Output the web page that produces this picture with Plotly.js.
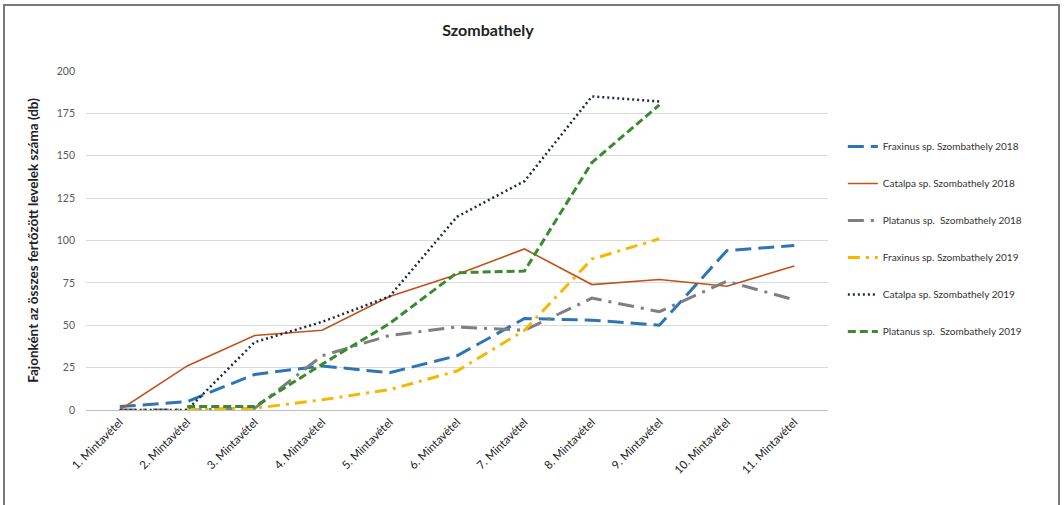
<!DOCTYPE html>
<html>
<head>
<meta charset="utf-8">
<script src="https://cdn.plot.ly/plotly-3.0.1.min.js"></script>
<style>
  html, body { margin: 0; padding: 0; background: #ffffff; }
  #wrap { position: relative; width: 1064px; height: 505px; overflow: hidden; }
  #chart { position: absolute; left: 0; top: 0; width: 1064px; height: 505px; }
  #frame { position: absolute; left: 3px; top: 4px; width: 1057px; height: 520px;
           border: 2px solid #7a7a7a; box-sizing: border-box; pointer-events: none; }
</style>
</head>
<body>
<div id="wrap">
  <div id="chart"></div>
  <div id="frame"></div>
</div>
<script>
// Sampling rounds
const categories = ['1. Mintavétel', '2. Mintavétel', '3. Mintavétel', '4. Mintavétel',
  '5. Mintavétel', '6. Mintavétel', '7. Mintavétel', '8. Mintavétel',
  '9. Mintavétel', '10. Mintavétel', '11. Mintavétel'];

// Infected leaves per species (db)
const fraxinus2018 = [2, 5, 21, 26, 22, 32, 54, 53, 50, 94, 97];
const catalpa2018  = [0, 26, 44, 47, 67, 80, 95, 74, 77, 73, 85];
const platanus2018 = [0, 0, 1, 32, 44, 49, 47, 66, 58, 76, 65];
const fraxinus2019 = [null, 0, 1, 6, 12, 23, 47, 89, 101, null, null];
const catalpa2019  = [0, 0, 40, 52, 67, 114, 135, 185, 182, null, null];
const platanus2019 = [null, 2, 2, 27, 51, 81, 82, 146, 180, null, null];

const seriesNames = [
  'Fraxinus sp. Szombathely 2018',
  'Catalpa sp. Szombathely 2018',
  'Platanus sp.  Szombathely 2018',
  'Fraxinus sp. Szombathely 2019',
  'Catalpa sp. Szombathely 2019',
  'Platanus sp.  Szombathely 2019'
];

const FONT = 'Lato, "Liberation Sans", sans-serif';

function trace(name, values, color, width, dash, group) {
  return {
    type: 'scatter', mode: 'lines', name: name,
    x: categories, y: values,
    connectgaps: false,
    legendgroup: group,
    line: { color: color, width: width, dash: dash }
  };
}

const data = [
  trace(seriesNames[0], fraxinus2018, '#2E75B6', 3, '16px,7px', 'g1'),
  trace(seriesNames[1], catalpa2018,  '#C0531A', 1.6, 'solid', 'g2'),
  trace(seriesNames[2], platanus2018, '#7F7F7F', 3, '16px,7px,3px,7px', 'g3'),
  trace(seriesNames[3], fraxinus2019, '#F5B800', 3, '12px,6px,3px,6px', 'g4'),
  trace(seriesNames[4], catalpa2019,  '#1E2A44', 2.5, '2px,3px', 'g5'),
  trace(seriesNames[5], platanus2019, '#3A8A30', 3, '8px,4px', 'g6')
];

const layout = {
  width: 1064, height: 505,
  paper_bgcolor: '#ffffff', plot_bgcolor: '#ffffff',
  margin: { l: 86, r: 236, t: 71, b: 95, pad: 0 },
  font: { family: FONT, size: 10, color: '#404040' },
  title: {
    text: '<b>Szombathely</b>',
    font: { family: FONT, size: 16, color: '#222222' },
    xref: 'container', x: 488 / 1064, xanchor: 'center',
    yref: 'container', y: 1 - 30 / 505, yanchor: 'middle'
  },
  showlegend: true,
  legend: {
    x: 1.02, xanchor: 'left', y: 0.82, yanchor: 'top',
    font: { family: FONT, size: 10, color: '#333333' },
    tracegroupgap: 18,
    bgcolor: 'rgba(0,0,0,0)'
  },
  xaxis: {
    type: 'category',
    range: [-0.5, 10.5],
    tickangle: -45,
    tickfont: { family: FONT, size: 11.5, color: '#222222' },
    showgrid: false,
    showline: true, linecolor: '#bfbfbf', linewidth: 1,
    ticks: '', zeroline: false,
    fixedrange: true
  },
  yaxis: {
    range: [0, 200],
    tickvals: [0, 25, 50, 75, 100, 125, 150, 175, 200],
    ticktext: ['0', '25', '50', '75', '100', '125', '150', '175', '200'],
    tickfont: { family: FONT, size: 10.5, color: '#595959' },
    showgrid: true, gridcolor: '#d9d9d9', gridwidth: 1,
    zeroline: false, showline: false, ticks: '',
    ticklabelstandoff: 10,
    title: {
      text: '<b>Fajonként az összes fertőzött levelek száma (db)</b>',
      font: { family: FONT, size: 13.5, color: '#222222' },
      standoff: 14
    },
    fixedrange: true
  }
};

Plotly.newPlot('chart', data, layout, { staticPlot: true, displayModeBar: false });
</script>
</body>
</html>
